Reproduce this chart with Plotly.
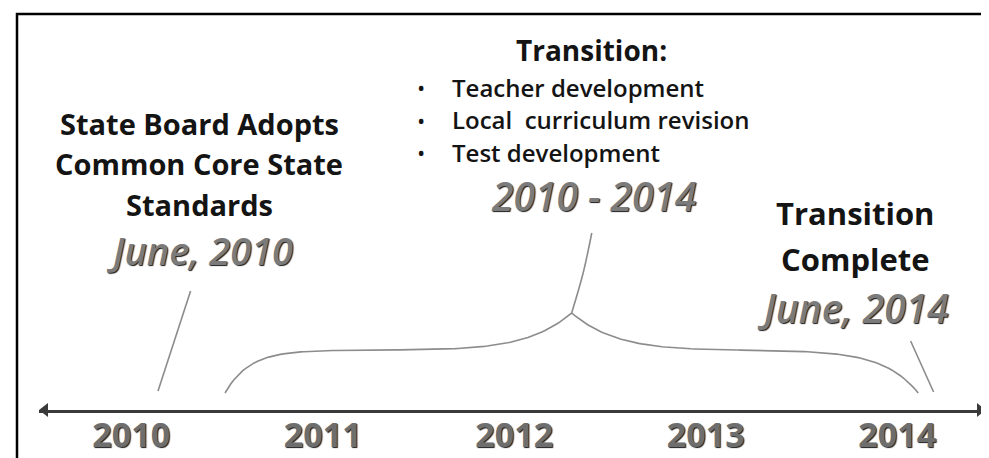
import numpy as np
import plotly.graph_objects as go

# ---------------- data ----------------
years = [2010, 2011, 2012, 2013, 2014]
year_labels = ["2010", "2011", "2012", "2013", "2014"]

adopt_lines = ["State Board Adopts", "Common Core State", "Standards"]
adopt_date = "June, 2010"
adopt_year = 2010.14          # where the pointer meets the timeline

transition_title = "Transition:"
transition_items = ["Teacher development", "Local  curriculum revision", "Test development"]
transition_period = "2010 - 2014"
transition_start = 2010.49
transition_end = 2014.11
transition_tip = 2012.30

complete_lines = ["Transition", "Complete"]
complete_date = "June, 2014"
complete_year = 2014.19

# ---------------- layout helpers ----------------
W, H = 989, 458
L, R, B = 31, 11, 56
PPY = 191.5                      # pixels per year
X0 = 2012 - 506.2 / PPY          # year at figure pixel 0
x_lo = X0 + L / PPY
x_hi = X0 + (W - R) / PPY
AXIS_PX = H - B                  # timeline pixel row


def yr(px):
    return X0 + px / PPY


def ht(py):
    return AXIS_PX - py


FONT = "Open Sans"
BLACK = "#141414"
GRAY = "#7b7b7b"
OUTLINE = "1px 1px 1px #1a1a1a"
LINEC = "#8c8c8c"

fig = go.Figure()

# arrow heads of the timeline
fig.add_trace(go.Scatter(
    x=[x_lo + 6 / PPY, x_hi - 6 / PPY], y=[0, 0], mode="markers",
    marker=dict(symbol=["triangle-left", "triangle-right"], size=12, color="#3a3a3a"),
    cliponaxis=False, hoverinfo="skip", showlegend=False))

# pointer for adoption
fig.add_trace(go.Scatter(
    x=[adopt_year, adopt_year + 0.17], y=[ht(383), ht(283)], mode="lines",
    line=dict(color=LINEC, width=1.6), hoverinfo="skip", showlegend=False))

# pointer for completion
fig.add_trace(go.Scatter(
    x=[complete_year, complete_year - 0.12], y=[ht(384), ht(333)], mode="lines",
    line=dict(color=LINEC, width=1.6), hoverinfo="skip", showlegend=False))

# curly brace over the transition period
base_h, flat_h, tip_h = ht(385), ht(342), ht(305)
u = np.linspace(0, 1, 120)
xl = transition_start + u * (transition_tip - transition_start)
yl = base_h + (flat_h - base_h) * (1 - np.exp(-u / 0.07)) + (tip_h - flat_h) * u ** 8
v = np.linspace(1, 0, 120)
xr = transition_end - v * (transition_end - transition_tip)
yr_ = base_h + (flat_h - base_h) * (1 - np.exp(-v / 0.1)) + (tip_h - flat_h) * v ** 8
fig.add_trace(go.Scatter(
    x=np.concatenate([xl, xr]), y=np.concatenate([yl, yr_]), mode="lines",
    line=dict(color=LINEC, width=1.6), hoverinfo="skip", showlegend=False))
# stem of brace
fig.add_trace(go.Scatter(
    x=[transition_tip, transition_tip + 0.06, transition_tip + 0.105], y=[tip_h, ht(265), ht(225)],
    mode="lines", line=dict(color=LINEC, width=1.6, shape="spline"),
    hoverinfo="skip", showlegend=False))

ann = []
# left block
for i, t in enumerate(adopt_lines):
    ann.append(dict(x=yr(191), y=ht(115 + 40.5 * i), text=t, showarrow=False,
                    font=dict(family=FONT, size=29, color=BLACK, weight="bold")))
ann.append(dict(x=yr(192), y=ht(242), text=adopt_date, showarrow=False,
                font=dict(family=FONT, size=38, color=GRAY, style="italic", weight=600, shadow=OUTLINE)))

# middle block
ann.append(dict(x=yr(583), y=ht(42), text=transition_title, showarrow=False,
                font=dict(family=FONT, size=28, color=BLACK, weight="bold")))
for i, t in enumerate(transition_items):
    ann.append(dict(x=yr(413), y=ht(79 + 32.5 * i), text="•", showarrow=False,
                    font=dict(family=FONT, size=22, color=BLACK)))
    ann.append(dict(x=yr(442), y=ht(79 + 32.5 * i), text=t, showarrow=False, xanchor="left",
                    font=dict(family=FONT, size=24, color=BLACK, weight=600)))
ann.append(dict(x=yr(585), y=ht(187), text=transition_period, showarrow=False,
                font=dict(family=FONT, size=39, color=GRAY, style="italic", weight=600, shadow=OUTLINE)))

# right block
for i, t in enumerate(complete_lines):
    ann.append(dict(x=yr(847), y=ht(205 + 46 * i), text=t, showarrow=False,
                    font=dict(family=FONT, size=31, color=BLACK, weight="bold")))
ann.append(dict(x=yr(845), y=ht(299), text=complete_date, showarrow=False,
                font=dict(family=FONT, size=39, color=GRAY, style="italic", weight=600, shadow=OUTLINE)))

# frame
frame = dict(type="rect", xref="paper", yref="paper",
             x0=(9 - L) / (W - L - R), x1=(980 - L) / (W - L - R),
             y0=-0.3, y1=1 - 6 / AXIS_PX,
             line=dict(color="black", width=2.5), fillcolor="rgba(0,0,0,0)")

fig.update_layout(
    width=W, height=H,
    margin=dict(l=L, r=R, t=0, b=B, pad=0),
    paper_bgcolor="white", plot_bgcolor="white",
    showlegend=False,
    annotations=ann,
    shapes=[frame],
    xaxis=dict(range=[x_lo, x_hi], showgrid=False, zeroline=False,
               showline=True, linecolor="#3a3a3a", linewidth=3,
               tickvals=years, ticktext=year_labels, ticks="",
               ticklabelstandoff=-7,
               tickfont=dict(family=FONT, size=34, color="#6e6e6e", weight="bold", shadow=OUTLINE),
               fixedrange=True),
    yaxis=dict(range=[0, AXIS_PX], visible=False, fixedrange=True),
)

fig.write_html("out.html", config={"displayModeBar": False})
